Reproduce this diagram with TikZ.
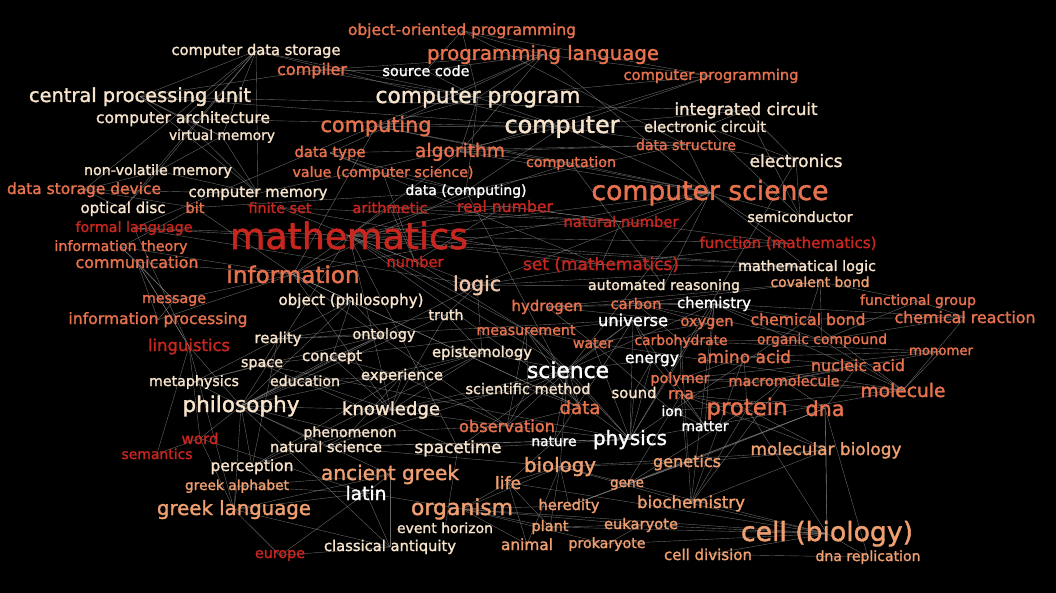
\documentclass[tikz,border=0pt]{standalone}
\usepackage{fontspec}
\setmainfont{DejaVu Sans}[FakeBold=1.5, AutoFakeBold=1.5]
\usepackage{xcolor}
\usepackage{tikz}

\pgfdeclarelayer{bg}
\pgfsetlayers{bg,main}

\definecolor{cwhite}{HTML}{FFFFFF}
\definecolor{ccream}{HTML}{F8E4CC}
\definecolor{cpink}{HTML}{F0C4AA}
\definecolor{csalmon}{HTML}{F0A070}
\definecolor{corange}{HTML}{E8724E}
\definecolor{cred}{HTML}{C8261E}

% word scaled to its width in the cloud
\newcommand{\fitw}[2]{\resizebox{#1pt}{!}{\bfseries #2}}

\begin{document}
\begin{tikzpicture}[x=1pt, y=-1pt,
    word/.style={anchor=base, inner sep=0pt},
    w-white/.style={word, text=cwhite},
    w-cream/.style={word, text=ccream},
    w-pink/.style={word, text=cpink},
    w-salmon/.style={word, text=csalmon},
    w-orange/.style={word, text=corange},
    w-red/.style={word, text=cred},
    link/.style={draw=gray!85, line width=0.4pt, opacity=0.7}]

    % computing
    \node[w-orange] (oop) at (462,35) {\fitw{228}{object-oriented programming}};
    \node[w-cream] (cds) at (256,55) {\fitw{169}{computer data storage}};
    \node[w-orange] (proglang) at (543,60) {\fitw{232}{programming language}};
    \node[w-orange] (compiler) at (312,75) {\fitw{70}{compiler}};
    \node[w-white] (srccode) at (426,76) {\fitw{87}{source code}};
    \node[w-orange] (compprog) at (711,80) {\fitw{175}{computer programming}};
    \node[w-cream] (cpu) at (140,102) {\fitw{222}{central processing unit}};
    \node[w-cream] (cprogram) at (478,103) {\fitw{205}{computer program}};
    \node[w-cream] (ic) at (746,115) {\fitw{143}{integrated circuit}};
    \node[w-cream] (carch) at (183,123) {\fitw{174}{computer architecture}};
    \node[w-orange] (computing) at (376,132) {\fitw{111}{computing}};
    \node[w-cream] (computer) at (562,133) {\fitw{115}{computer}};
    \node[w-cream] (ecircuit) at (705,132) {\fitw{122}{electronic circuit}};
    \node[w-cream] (vmem) at (222,140) {\fitw{106}{virtual memory}};
    \node[w-orange] (dtype) at (330,157) {\fitw{71}{data type}};
    \node[w-orange] (algo) at (460,157) {\fitw{90}{algorithm}};
    \node[w-orange] (dstruct) at (686,150) {\fitw{100}{data structure}};
    \node[w-cream] (nvmem) at (158,175) {\fitw{148}{non-volatile memory}};
    \node[w-orange] (computation) at (571,167) {\fitw{90}{computation}};
    \node[w-cream] (electronics) at (796,167) {\fitw{93}{electronics}};
    \node[w-orange] (value) at (383,177) {\fitw{181}{value (computer science)}};
    \node[w-orange] (dsd) at (84,194) {\fitw{154}{data storage device}};
    \node[w-cream] (cmem) at (258,197) {\fitw{139}{computer memory}};
    \node[w-white] (datac) at (466,195) {\fitw{121}{data (computing)}};
    \node[w-orange] (cs) at (710,200) {\fitw{237}{computer science}};

    % mathematics
    \node[w-cream] (odisc) at (123,213) {\fitw{85}{optical disc}};
    \node[w-orange] (bit) at (195,213) {\fitw{19}{bit}};
    \node[w-red] (finset) at (280,213) {\fitw{63}{finite set}};
    \node[w-red] (arith) at (390,213) {\fitw{75}{arithmetic}};
    \node[w-red] (realnum) at (505,212) {\fitw{96}{real number}};
    \node[w-cream] (semicond) at (800,222) {\fitw{105}{semiconductor}};
    \node[w-red] (natnum) at (621,227) {\fitw{115}{natural number}};
    \node[w-red] (formlang) at (134,232) {\fitw{117}{formal language}};
    \node[w-red] (math) at (349,249) {\fitw{238}{mathematics}};
    \node[w-orange] (infotheory) at (121,251) {\fitw{133}{information theory}};
    \node[w-red] (function) at (788,248) {\fitw{177}{function (mathematics)}};
    \node[w-orange] (comm) at (137,268) {\fitw{123}{communication}};
    \node[w-red] (number) at (415,267) {\fitw{57}{number}};
    \node[w-red] (set) at (601,270) {\fitw{156}{set (mathematics)}};
    \node[w-cream] (mathlogic) at (807,271) {\fitw{138}{mathematical logic}};
    \node[w-orange] (info) at (293,283) {\fitw{133}{information}};
    \node[w-pink] (logic) at (477,291) {\fitw{48}{logic}};
    \node[w-cream] (autoreason) at (664,290) {\fitw{152}{automated reasoning}};
    \node[w-salmon] (covbond) at (820,287) {\fitw{99}{covalent bond}};

    % philosophy, science, chemistry
    \node[w-orange] (message) at (174,303) {\fitw{64}{message}};
    \node[w-cream] (objphil) at (351,305) {\fitw{145}{object (philosophy)}};
    \node[w-orange] (hydrogen) at (547,311) {\fitw{71}{hydrogen}};
    \node[w-orange] (carbon) at (636,309) {\fitw{51}{carbon}};
    \node[w-white] (chemistry) at (714,308) {\fitw{74}{chemistry}};
    \node[w-orange] (fgroup) at (918,305) {\fitw{116}{functional group}};
    \node[w-orange] (infoproc) at (158,324) {\fitw{179}{information processing}};
    \node[w-cream] (truth) at (446,320) {\fitw{35}{truth}};
    \node[w-orange] (measure) at (526,335) {\fitw{99}{measurement}};
    \node[w-white] (universe) at (633,326) {\fitw{70}{universe}};
    \node[w-orange] (oxygen) at (707,326) {\fitw{53}{oxygen}};
    \node[w-orange] (chembond) at (808,325) {\fitw{115}{chemical bond}};
    \node[w-orange] (chemreact) at (965,323) {\fitw{141}{chemical reaction}};
    \node[w-cream] (reality) at (278,343) {\fitw{47}{reality}};
    \node[w-cream] (ontology) at (384,339) {\fitw{63}{ontology}};
    \node[w-orange] (carbohyd) at (681,345) {\fitw{93}{carbohydrate}};
    \node[w-orange] (orgcomp) at (822,344) {\fitw{130}{organic compound}};
    \node[w-red] (ling) at (189,351) {\fitw{82}{linguistics}};
    \node[w-orange] (water) at (593,348) {\fitw{40}{water}};
    \node[w-orange] (monomer) at (941,355) {\fitw{64}{monomer}};
    \node[w-cream] (space) at (262,367) {\fitw{42}{space}};
    \node[w-cream] (concept) at (332,361) {\fitw{60}{concept}};
    \node[w-cream] (epist) at (482,357) {\fitw{100}{epistemology}};
    \node[w-white] (energy) at (652,363) {\fitw{54}{energy}};
    \node[w-orange] (amino) at (744,363) {\fitw{94}{amino acid}};
    \node[w-orange] (nucleic) at (858,371) {\fitw{94}{nucleic acid}};
    \node[w-cream] (metaphys) at (194,386) {\fitw{90}{metaphysics}};
    \node[w-cream] (education) at (305,386) {\fitw{70}{education}};
    \node[w-cream] (experience) at (402,380) {\fitw{82}{experience}};
    \node[w-white] (science) at (568,378) {\fitw{82}{science}};
    \node[w-orange] (polymer) at (680,383) {\fitw{59}{polymer}};
    \node[w-orange] (macromol) at (784,386) {\fitw{111}{macromolecule}};
    \node[w-cream] (scimethod) at (528,394) {\fitw{125}{scientific method}};
    \node[w-cream] (sound) at (634,398) {\fitw{45}{sound}};
    \node[w-orange] (rna) at (681,399) {\fitw{26}{rna}};
    \node[w-orange] (molecule) at (903,397) {\fitw{85}{molecule}};
    \node[w-cream] (philosophy) at (241,412) {\fitw{117}{philosophy}};
    \node[w-cream] (knowledge) at (391,415) {\fitw{98}{knowledge}};
    \node[w-orange] (data) at (580,414) {\fitw{41}{data}};
    \node[w-white] (ion) at (672,416) {\fitw{21}{ion}};
    \node[w-orange] (protein) at (747,415) {\fitw{81}{protein}};
    \node[w-orange] (dna) at (825,416) {\fitw{39}{dna}};
    \node[w-cream] (phenom) at (350,437) {\fitw{93}{phenomenon}};
    \node[w-orange] (observation) at (507,432) {\fitw{96}{observation}};
    \node[w-white] (matter) at (705,431) {\fitw{47}{matter}};
    \node[w-red] (word) at (200,444) {\fitw{37}{word}};
    \node[w-cream] (natsci) at (326,452) {\fitw{112}{natural science}};
    \node[w-white] (nature) at (554,446) {\fitw{45}{nature}};
    \node[w-white] (physics) at (630,445) {\fitw{74}{physics}};
    \node[w-red] (semantics) at (157,459) {\fitw{71}{semantics}};
    \node[w-cream] (spacetime) at (458,453) {\fitw{87}{spacetime}};
    \node[w-salmon] (molbio) at (826,455) {\fitw{151}{molecular biology}};

    % language, biology
    \node[w-cream] (perception) at (252,471) {\fitw{83}{perception}};
    \node[w-salmon] (ancgreek) at (390,480) {\fitw{138}{ancient greek}};
    \node[w-salmon] (biology) at (560,472) {\fitw{72}{biology}};
    \node[w-salmon] (genetics) at (687,467) {\fitw{68}{genetics}};
    \node[w-salmon] (greekalpha) at (237,490) {\fitw{104}{greek alphabet}};
    \node[w-salmon] (life) at (508,489) {\fitw{26}{life}};
    \node[w-salmon] (gene) at (627,487) {\fitw{34}{gene}};
    \node[w-white] (latin) at (366,500) {\fitw{41}{latin}};
    \node[w-salmon] (heredity) at (569,510) {\fitw{61}{heredity}};
    \node[w-salmon] (biochem) at (691,508) {\fitw{108}{biochemistry}};
    \node[w-salmon] (greeklang) at (234,515) {\fitw{154}{greek language}};
    \node[w-salmon] (organism) at (462,515) {\fitw{102}{organism}};
    \node[w-cream] (evhorizon) at (445,533) {\fitw{96}{event horizon}};
    \node[w-salmon] (plant) at (550,531) {\fitw{37}{plant}};
    \node[w-salmon] (eukaryote) at (641,529) {\fitw{74}{eukaryote}};
    \node[w-salmon] (cell) at (827,541) {\fitw{172}{cell (biology)}};
    \node[w-red] (europe) at (280,558) {\fitw{50}{europe}};
    \node[w-cream] (classant) at (390,551) {\fitw{132}{classical antiquity}};
    \node[w-salmon] (animal) at (527,550) {\fitw{52}{animal}};
    \node[w-salmon] (prokaryote) at (607,548) {\fitw{77}{prokaryote}};
    \node[w-salmon] (celldiv) at (708,560) {\fitw{88}{cell division}};
    \node[w-salmon] (dnarep) at (868,561) {\fitw{105}{dna replication}};

    \begin{pgfonlayer}{bg}
    \fill[black] (0,0) rectangle (1056,593);
    \foreach \a/\b in {
        cds/cmem, cds/nvmem, cds/dsd, cds/odisc, cds/vmem, cds/cpu, cds/carch, cds/computer, cds/cprogram,
        oop/proglang, oop/compprog, oop/cprogram, oop/srccode, oop/dstruct,
        proglang/compiler, proglang/srccode, proglang/compprog, proglang/cprogram, proglang/cs, proglang/dtype, proglang/algo, proglang/formlang,
        compiler/srccode, compiler/cprogram, compiler/cpu, srccode/cprogram,
        compprog/cprogram, compprog/algo, compprog/computer,
        cpu/carch, cpu/computer, cpu/cmem, cpu/ic, cpu/vmem,
        cprogram/computer, cprogram/computing, cprogram/algo, cprogram/datac,
        carch/cmem, carch/vmem, carch/computer,
        ic/ecircuit, ic/electronics, ic/semicond, ic/computer,
        computing/computer, computing/cs, computing/info, computing/computation,
        computer/cs, computer/electronics, computer/cmem, computer/ecircuit, computer/datac,
        ecircuit/electronics, ecircuit/semicond, vmem/cmem, vmem/nvmem,
        dtype/value, dtype/dstruct, dtype/datac, dtype/set,
        algo/computation, algo/math, algo/cs, algo/dstruct, dstruct/cs, dstruct/datac,
        nvmem/cmem, nvmem/dsd, nvmem/odisc,
        computation/cs, computation/math, computation/autoreason,
        electronics/semicond, electronics/physics, value/datac, value/number,
        dsd/odisc, dsd/cmem, dsd/bit, datac/info, datac/data, datac/bit,
        cs/math, cs/info, cs/logic, cs/mathlogic, cs/autoreason, cs/function, cs/semicond, cs/natnum, cs/science,
        bit/info, bit/infotheory}
        \draw[link] (\a.center) -- (\b.center);
    \foreach \a/\b in {
        math/finset, math/arith, math/realnum, math/natnum, math/number, math/set, math/function, math/logic,
        math/mathlogic, math/info, math/formlang, math/science, math/physics, math/philosophy, math/measure,
        math/knowledge, math/spacetime,
        finset/set, finset/natnum, arith/number, arith/natnum, arith/realnum,
        realnum/natnum, realnum/number, realnum/function,
        formlang/ling, formlang/logic, formlang/mathlogic,
        infotheory/info, infotheory/comm, infotheory/message,
        comm/info, comm/message, comm/infoproc, comm/ling,
        info/message, info/infoproc, info/data, info/knowledge, info/objphil, info/observation,
        logic/mathlogic, logic/autoreason, logic/truth, logic/philosophy, logic/epist, logic/set,
        set/function, set/mathlogic, set/natnum, message/infoproc,
        objphil/philosophy, objphil/ontology, objphil/reality, objphil/concept,
        truth/epist, truth/knowledge, truth/reality, truth/philosophy,
        ontology/metaphys, ontology/philosophy, ontology/reality, ontology/concept,
        reality/space, reality/metaphys, reality/universe, reality/perception,
        ling/word, ling/semantics, ling/philosophy, ling/greeklang, ling/comm,
        concept/knowledge, concept/philosophy, concept/experience,
        space/spacetime, space/metaphys, space/universe, space/physics,
        epist/knowledge, epist/philosophy, epist/experience, epist/science, epist/perception,
        metaphys/philosophy, education/knowledge, education/philosophy, education/experience,
        experience/knowledge, experience/perception, experience/observation, experience/phenom}
        \draw[link] (\a.center) -- (\b.center);
    \foreach \a/\b in {
        science/scimethod, science/physics, science/knowledge, science/natsci, science/observation,
        science/measure, science/data, science/biology, science/chemistry, science/nature, science/energy, science/universe,
        scimethod/observation, scimethod/data, scimethod/measure, scimethod/knowledge,
        philosophy/knowledge, philosophy/perception, philosophy/greeklang, philosophy/phenom, philosophy/ancgreek,
        philosophy/word, philosophy/natsci, philosophy/classant,
        knowledge/phenom, knowledge/observation, phenom/observation, phenom/perception, phenom/natsci,
        observation/data, observation/measure, observation/physics,
        word/semantics, word/greeklang, word/latin,
        natsci/physics, natsci/biology, natsci/nature, nature/physics, nature/life, nature/universe,
        physics/matter, physics/energy, physics/spacetime, physics/sound, physics/universe, physics/chemistry,
        physics/measure, physics/ion, physics/water, spacetime/evhorizon, spacetime/universe,
        ancgreek/greeklang, ancgreek/latin, ancgreek/classant, ancgreek/greekalpha,
        greekalpha/greeklang, greekalpha/latin, greeklang/latin, greeklang/europe, greeklang/classant,
        latin/classant, latin/europe, latin/organism, classant/europe}
        \draw[link] (\a.center) -- (\b.center);
    \foreach \a/\b in {
        biology/life, biology/organism, biology/genetics, biology/cell, biology/molbio, biology/biochem,
        biology/heredity, biology/plant, biology/animal,
        life/organism, life/plant, life/animal, life/cell,
        organism/cell, organism/plant, organism/animal, organism/eukaryote, organism/prokaryote, organism/heredity,
        genetics/gene, genetics/heredity, genetics/dna, genetics/molbio, genetics/rna,
        gene/dna, gene/heredity, gene/protein, gene/rna, heredity/dna,
        biochem/protein, biochem/cell, biochem/molbio, biochem/chemistry, biochem/amino, biochem/carbohyd, biochem/macromol,
        plant/eukaryote, plant/cell, eukaryote/cell, eukaryote/prokaryote, prokaryote/cell,
        cell/celldiv, cell/dnarep, cell/protein, cell/dna, cell/molbio, celldiv/dnarep, dnarep/dna,
        molbio/dna, molbio/protein, molbio/rna,
        chemistry/chembond, chemistry/chemreact, chemistry/molecule, chemistry/carbon, chemistry/hydrogen,
        chemistry/oxygen, chemistry/matter, chemistry/orgcomp,
        hydrogen/water, hydrogen/oxygen, hydrogen/carbon, hydrogen/covbond,
        carbon/orgcomp, carbon/carbohyd, carbon/oxygen, carbon/covbond, oxygen/water, oxygen/carbohyd,
        chembond/covbond, chembond/molecule, chembond/chemreact, chembond/ion,
        chemreact/fgroup, chemreact/molecule, chemreact/orgcomp, fgroup/orgcomp, fgroup/covbond,
        carbohyd/polymer, carbohyd/orgcomp, carbohyd/monomer, orgcomp/molecule, orgcomp/covbond,
        monomer/polymer, monomer/macromol, monomer/molecule,
        amino/protein, amino/polymer, amino/nucleic, amino/monomer,
        nucleic/dna, nucleic/rna, nucleic/macromol, polymer/macromol, polymer/molecule,
        macromol/molecule, macromol/protein, macromol/dna, rna/dna, rna/protein,
        molecule/ion, molecule/matter, ion/matter, ion/water, matter/energy, matter/universe,
        energy/universe, energy/sound, water/molecule, water/measure,
        measure/number, measure/data, data/info}
        \draw[link] (\a.center) -- (\b.center);
    \end{pgfonlayer}
\end{tikzpicture}
\end{document}
